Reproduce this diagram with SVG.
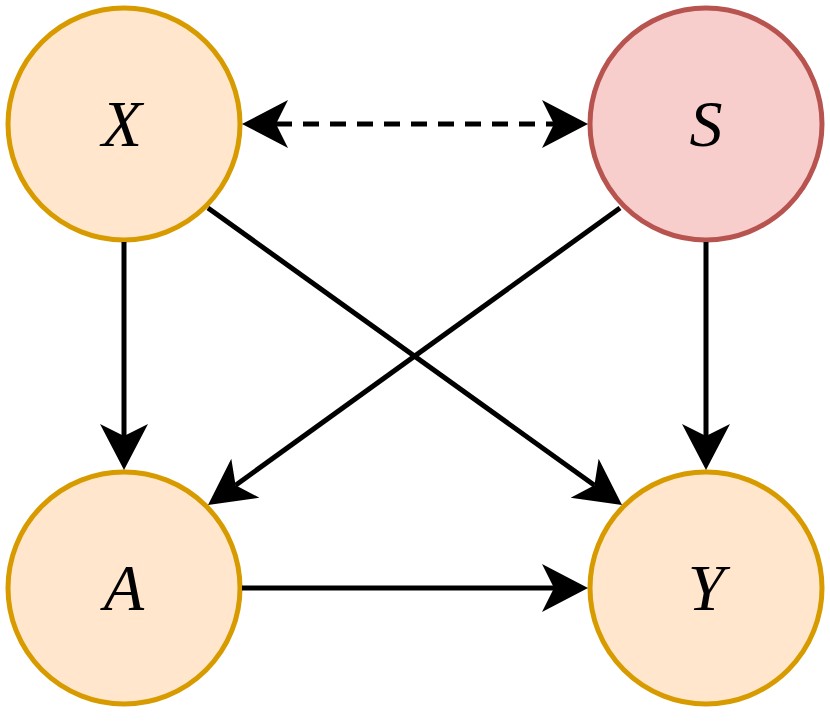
<svg xmlns="http://www.w3.org/2000/svg" width="830" height="726" viewBox="0 0 830 726">
<style>
.n{fill:#ffe6cc;stroke:#d79b00;stroke-width:5}
.s{fill:#f8cecc;stroke:#b85450;stroke-width:5}
.t{font-family:"Liberation Serif",serif;font-style:italic;font-size:66px;text-anchor:middle;fill:#000}
.e{stroke:#000;stroke-width:5;fill:none}
</style>
<defs>
<marker id="a" markerUnits="userSpaceOnUse" viewBox="-50 -30 60 60" refX="-34" refY="0" markerWidth="60" markerHeight="60" orient="auto-start-reverse">
<path d="M0,0 L-46,-24 L-34,0 L-46,24 Z" fill="#000"/>
</marker>
</defs>
<g id="X"><circle class="n" cx="124" cy="124" r="116"/><text class="t" x="122" y="146">X</text></g>
<g id="S"><circle class="s" cx="706" cy="124" r="116"/><text class="t" x="706" y="146">S</text></g>
<g id="A"><circle class="n" cx="124" cy="588" r="116"/><text class="t" x="124" y="610">A</text></g>
<g id="Y"><circle class="n" cx="706" cy="588" r="116"/><text class="t" x="706" y="610">Y</text></g>
<g id="edges">
<line class="e" x1="276" y1="124" x2="554" y2="124" stroke-dasharray="16,11" marker-start="url(#a)" marker-end="url(#a)"/>
<line class="e" x1="124" y1="242" x2="124" y2="436" marker-end="url(#a)"/>
<line class="e" x1="706" y1="242" x2="706" y2="436" marker-end="url(#a)"/>
<line class="e" x1="208" y1="208" x2="594.4" y2="485.2" marker-end="url(#a)"/>
<line class="e" x1="620" y1="208" x2="235.6" y2="485.2" marker-end="url(#a)"/>
<line class="e" x1="242" y1="588" x2="554" y2="588" marker-end="url(#a)"/>
</g>
</svg>
